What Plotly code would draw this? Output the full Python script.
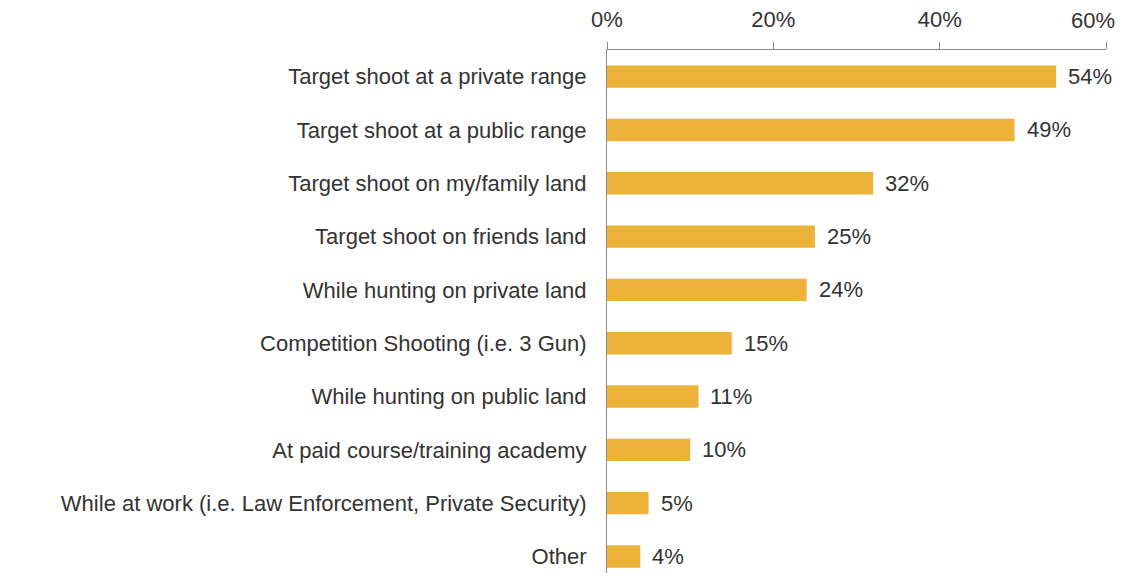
import plotly.graph_objects as go

categories = [
    "Target shoot at a private range",
    "Target shoot at a public range",
    "Target shoot on my/family land",
    "Target shoot on friends land",
    "While hunting on private land",
    "Competition Shooting (i.e. 3 Gun)",
    "While hunting on public land",
    "At paid course/training academy",
    "While at work (i.e. Law Enforcement, Private Security)",
    "Other",
]
values = [54, 49, 32, 25, 24, 15, 11, 10, 5, 4]
x_ticks = [0, 20, 40, 60]
x_tick_labels = ["0%", "20%", "40%", "60%"]

bar_color = "#ECB23A"
text_color = "#333333"
font_family = "Liberation Sans, Arial, sans-serif"
fsize = 22

fig = go.Figure()
fig.add_trace(go.Bar(
    y=categories,
    x=values,
    orientation="h",
    marker=dict(color=bar_color, line=dict(width=0)),
    hoverinfo="skip",
))

for c, v in zip(categories, values):
    fig.add_annotation(
        x=v, y=c, text=f"{v}%", showarrow=False,
        xanchor="left", xshift=10,
        font=dict(size=fsize, color=text_color, family=font_family),
    )

# last tick label would be clipped at the page edge: draw it as an annotation
shown_tick_text = x_tick_labels[:-1] + [""]
fig.add_annotation(
    x=x_ticks[-1], y=1, yref="paper", text=x_tick_labels[-1], showarrow=False,
    xanchor="right", yanchor="bottom", xshift=10, yshift=16, borderpad=0,
    font=dict(size=fsize, color=text_color, family=font_family),
)

fig.update_layout(
    width=1118, height=565,
    margin=dict(l=599, r=20, t=42, b=0),
    paper_bgcolor="white", plot_bgcolor="white",
    bargap=0.58,
    showlegend=False,
    font=dict(family=font_family, size=fsize, color=text_color),
)
fig.update_xaxes(
    side="top",
    range=[0, 60],
    tickvals=x_ticks, ticktext=shown_tick_text,
    showgrid=False, zeroline=False,
    showline=True, linecolor="#8a8a8a", linewidth=1,
    ticks="outside", ticklen=7, tickcolor="#8a8a8a",
    tickfont=dict(size=fsize, color=text_color),
    ticklabelstandoff=6,
)
fig.update_yaxes(
    range=[9.31, -0.5],
    showgrid=False, zeroline=False,
    showline=True, linecolor="#8a8a8a", linewidth=1,
    ticks="", ticklabelstandoff=15,
    tickfont=dict(size=fsize, color=text_color),
)

fig.write_html("out.html")
